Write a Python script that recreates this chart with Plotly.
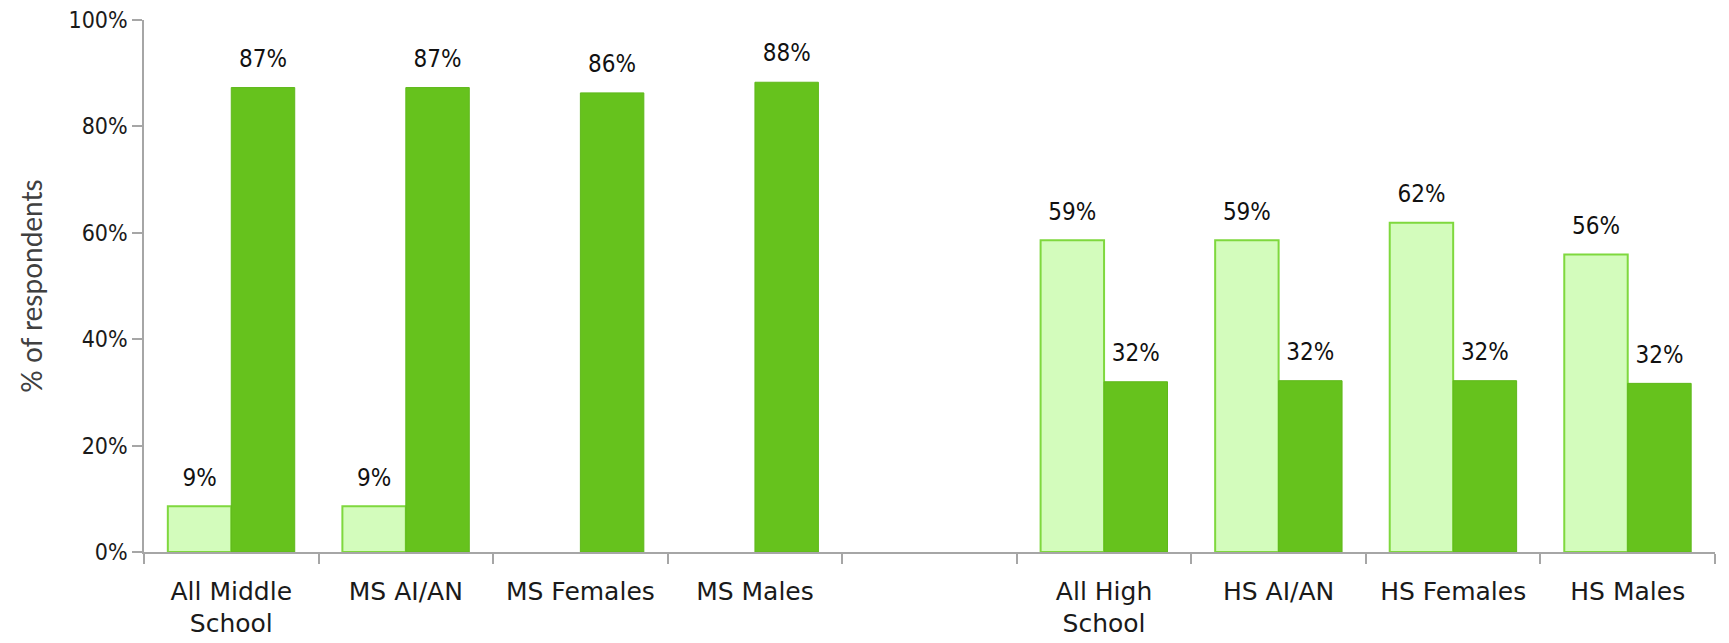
import plotly.graph_objects as go

categories = ["All Middle<br>School", "MS AI/AN", "MS Females", "MS Males", " ",
              "All High<br>School", "HS AI/AN", "HS Females", "HS Males"]
light_values = [8.6, 8.6, None, None, None, 58.6, 58.6, 61.9, 55.9]
dark_values = [87.3, 87.3, 86.3, 88.3, None, 32.0, 32.2, 32.2, 31.7]
y_ticks = [0, 20, 40, 60, 80, 100]
y_tick_labels = ["0%", "20%", "40%", "60%", "80%", "100%"]

LIGHT_FILL = "#d3fcbc"
LIGHT_LINE = "#7fd83e"
DARK_FILL = "#66c21d"
DARK_LINE = "#5fb81b"
AXIS_COLOR = "#a6a6a6"
NUM_FONT = "DejaVu Sans Condensed, Liberation Sans Narrow, DejaVu Sans"

fig = go.Figure()
fig.add_trace(go.Bar(x=categories, y=light_values, name="light",
                     marker=dict(color=LIGHT_FILL, line=dict(color=LIGHT_LINE, width=2)),
                     hoverinfo="y"))
fig.add_trace(go.Bar(x=categories, y=dark_values, name="dark",
                     marker=dict(color=DARK_FILL, line=dict(color=DARK_LINE, width=1)),
                     hoverinfo="y"))

for vals in (light_values, dark_values):
    fig.add_trace(go.Scatter(
        x=categories, y=vals, mode="markers+text",
        marker=dict(size=22, opacity=0),
        texttemplate="%{y:.0f}%", textposition="top center",
        textfont=dict(family=NUM_FONT, size=24, color="#111111"),
        cliponaxis=False, hoverinfo="skip", showlegend=False))

fig.update_layout(
    width=1729, height=643,
    margin=dict(l=136, r=22, t=12, b=99, autoexpand=False),
    paper_bgcolor="white", plot_bgcolor="white",
    barmode="group", bargap=0.273, bargroupgap=0,
    scattermode="group", scattergap=0.273,
    showlegend=False,
)
fig.update_xaxes(
    type="category", categoryorder="array", categoryarray=categories,
    automargin=False,
    tickson="boundaries", ticks="outside", ticklen=10, tickwidth=1.5,
    tickcolor=AXIS_COLOR, showline=True, linecolor=AXIS_COLOR, linewidth=1.5,
    showgrid=False, ticklabelstandoff=16, ticklabeloverflow="allow",
    tickfont=dict(family="DejaVu Sans", size=25, color="#1a1a1a"),
)
fig.update_yaxes(
    range=[0, 100], tickvals=y_ticks, ticktext=y_tick_labels,
    automargin=False, ticklabeloverflow="allow",
    ticks="outside", ticklen=10, tickwidth=1.5, tickcolor=AXIS_COLOR,
    showline=True, linecolor=AXIS_COLOR, linewidth=1.5,
    showgrid=False, zeroline=False,
    tickfont=dict(family=NUM_FONT, size=23, color="#1a1a1a"),
    title=dict(text="% of respondents", font=dict(family="Lato", size=28, color="#404040"),
               standoff=18),
)

fig.write_html("out.html")
